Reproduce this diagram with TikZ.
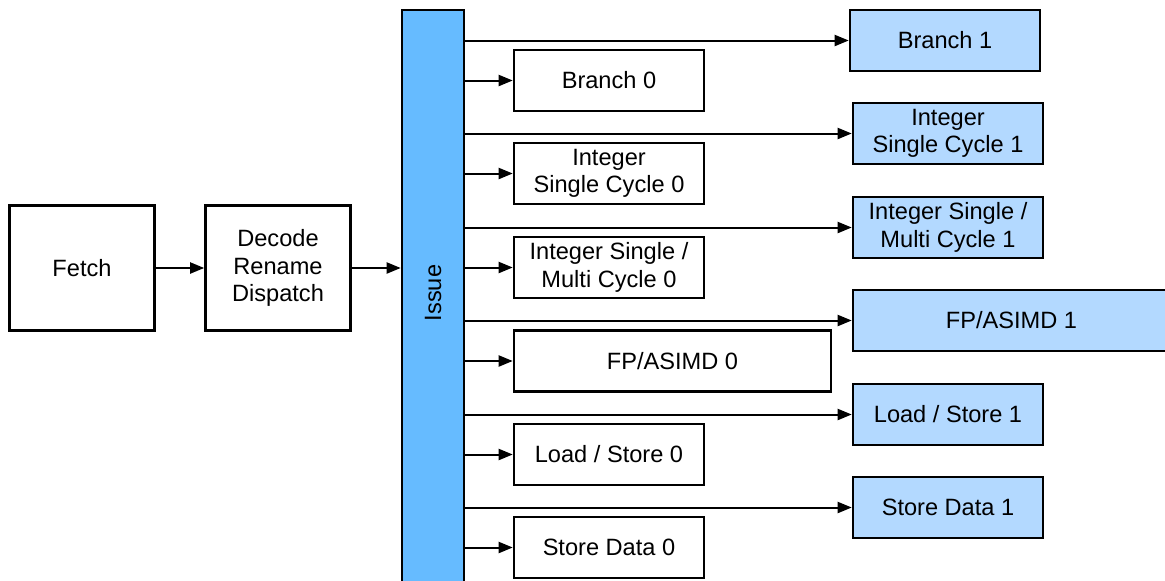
\documentclass[tikz,border=0pt]{standalone}
\usepackage{fontspec}
\setmainfont{Liberation Sans}
\usetikzlibrary{arrows.meta}
\definecolor{issueblue}{RGB}{102,187,255}
\definecolor{fublue}{RGB}{179,217,255}
\begin{document}
\begin{tikzpicture}[x=1pt,y=-1pt,
  every node/.style={font=\fontsize{23.6}{27.5}\selectfont, align=center, inner sep=0pt},
  box/.style={draw=black, line width=2.6pt, fill=white},
  stage/.style={box, minimum width=145pt, minimum height=125pt},
  fuzero/.style={box, minimum width=190pt, minimum height=61pt},
  fuone/.style={box, fill=fublue, minimum width=190pt, minimum height=61pt},
  arr/.style={draw=black, line width=2pt, -{Triangle[length=14pt,width=11pt]}},
  ]
\useasboundingbox (0,0) rectangle (1165,581);
\clip (0,0) rectangle (1165,581);
\fill[white] (0,0) rectangle (1165,581);

% pipeline front
\node[stage] (fetch) at (82,268) {Fetch};
\node[stage] (decode) at (278,268) {Decode\\Rename\\Dispatch};
\node[box, fill=issueblue, minimum width=62pt, minimum height=589pt] (issue) at (433,304.5) {};
\node[rotate=90] (issuelabel) at (433,293) {Issue};

% functional units, pipe 0
\node[fuzero] (b0) at (609,80.5) {Branch 0};
\node[fuzero] (is0) at (609,173.5) {Integer\\Single Cycle 0};
\node[fuzero] (ism0) at (609,267.5) {Integer Single /\\Multi Cycle 0};
\node[fuzero, minimum width=317pt] (fp0) at (672.5,361) {FP/ASIMD 0};
\node[fuzero] (ls0) at (609,454.5) {Load / Store 0};
\node[fuzero] (sd0) at (609,547.5) {Store Data 0};

% functional units, pipe 1
\node[fuone] (b1) at (945,40.5) {Branch 1};
\node[fuone] (is1) at (948,133.5) {Integer\\Single Cycle 1};
\node[fuone] (ism1) at (948,227.5) {Integer Single /\\Multi Cycle 1};
\node[fuone, minimum width=317pt] (fp1) at (1011.5,320.5) {FP/ASIMD 1};
\node[fuone] (ls1) at (948,414.5) {Load / Store 1};
\node[fuone] (sd1) at (948,507.5) {Store Data 1};

% connectors
\draw[arr] (fetch) -- (decode);
\draw[arr] (decode.east) -- (decode.east -| issue.west);
\foreach \n in {b0,is0,ism0,fp0,ls0,sd0,b1,is1,ism1,fp1,ls1,sd1}{
  \draw[arr] (issue.east |- \n.west) -- (\n.west);
}
\end{tikzpicture}
\end{document}
